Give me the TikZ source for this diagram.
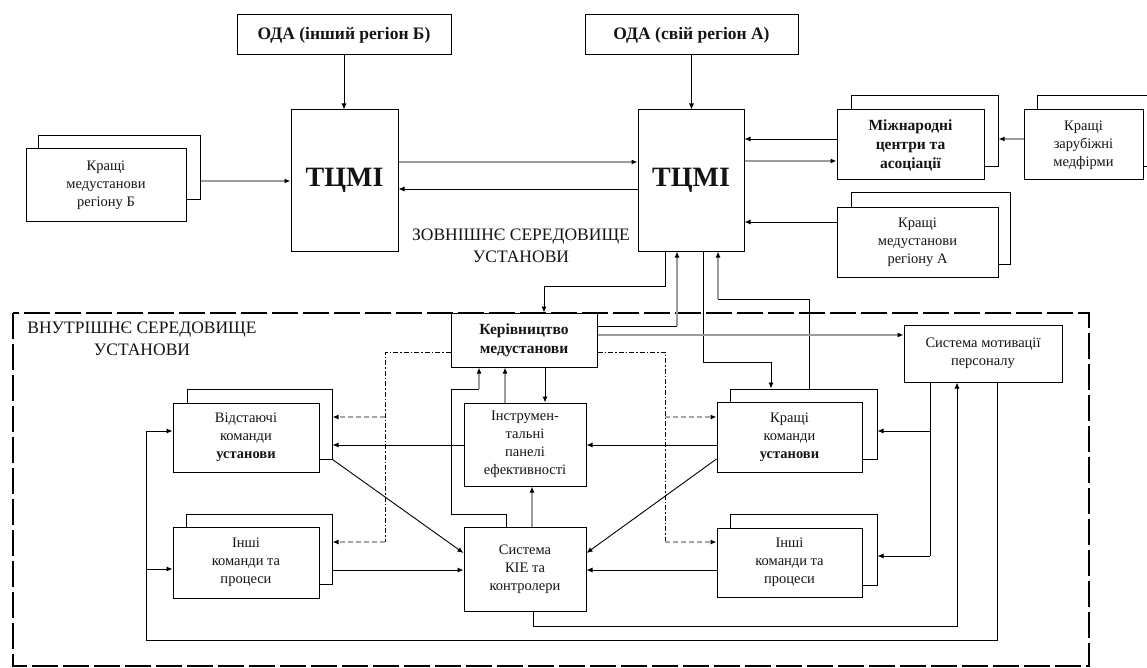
\documentclass[tikz,border=0pt]{standalone}
\usepackage{fontspec}
\setmainfont{Liberation Serif}
\usetikzlibrary{arrows.meta,calc}
\definecolor{diagramText}{HTML}{141414}
\definecolor{linkGray}{HTML}{9C9C9C}
\definecolor{dashGray}{HTML}{A8A8A8}
\newcommand{\boxfont}{\fontsize{14.5}{18}\selectfont}

\begin{document}
\begin{tikzpicture}[
  x=1pt, y=-1pt,
  >={Latex[length=6pt,width=5pt,color=black]},
  unit/.style={
    draw,
    fill=white,
    text=diagramText,
    line width=1pt,
    inner sep=0pt,
    align=center,
    font=\boxfont
  },
  dims/.style 2 args={minimum width=#1, minimum height=#2},
  odabox/.style={unit, font=\bfseries\fontsize{17.5}{20}\selectfont},
  hubbox/.style={unit, font=\bfseries\fontsize{28}{30}\selectfont},
  boldunit/.style={unit, font=\bfseries\fontsize{15.5}{19}\selectfont},
  areatext/.style={align=center, text=diagramText, font=\fontsize{17.5}{22}\selectfont},
  linkline/.style={draw=black, line width=0.9pt},
  flow/.style={linkline, ->},
  softflow/.style={->, draw=linkGray, line width=2pt},
  dashlink/.style={->, draw=dashGray, line width=1.6pt, dash pattern=on 5pt off 3pt},
  orderline/.style={draw=black, line width=0.9pt, dash pattern=on 5pt off 2pt on 1.5pt off 2pt},
  areaframe/.style={draw=black, line width=1.1pt, dash pattern=on 26pt off 5pt}
]
\useasboundingbox (0,0) rectangle (1147,668);

% inner area
\draw[areaframe] (13,313) rectangle (1089,666);
\node[areatext] (inner-label) at (142,339) {ВНУТРІШНЄ СЕРЕДОВИЩЕ\\УСТАНОВИ};
\node[areatext] (outer-label) at (521,246) {ЗОВНІШНЄ СЕРЕДОВИЩЕ\\УСТАНОВИ};

% external environment
\node[odabox, dims={214}{40}] (oda-b) at (344,35) {ОДА (інший регіон Б)};
\node[odabox, dims={213}{40}] (oda-a) at (691.5,35) {ОДА (свій регіон А)};
\node[hubbox, dims={107}{141}] (tcmi-b) at (344.5,180.5) {ТЦМІ};
\node[hubbox, dims={106}{141}] (tcmi-a) at (691,180.5) {ТЦМІ};

\node[unit, dims={162}{64}] (best-b-back) at (119,168) {};
\node[unit, dims={160}{73}] (best-b) at (106,185.5) {Кращі\\медустанови\\регіону Б};
\node[unit, dims={147}{71}] (intl-back) at (924.5,131.5) {};
\node[boldunit, dims={147}{70}] (intl) at (910.5,145) {Міжнародні\\центри та\\асоціації};
\node[unit, dims={115}{71}] (foreign-back) at (1094.5,131.5) {};
\node[unit, dims={119}{70}] (foreign) at (1083.5,145) {Кращі\\зарубіжні\\медфірми};
\node[unit, dims={159}{71}] (best-a-back) at (930.5,228.5) {};
\node[unit, dims={161}{69}] (best-a) at (917.5,242.5) {Кращі\\медустанови\\регіону А};

% internal environment
\node[boldunit, dims={146}{54}] (mgmt) at (524,340) {Керівництво\\медустанови};
\node[unit, dims={158}{57}] (motiv) at (983,353.5) {Система мотивації\\персоналу};
\node[unit, dims={145}{70}] (lag-back) at (259.5,424) {};
\node[unit, dims={146}{69}] (lag) at (246,437.5) {Відстаючі\\команди\\\textbf{установи}};
\node[unit, dims={146}{70}] (other-l-back) at (259,549) {};
\node[unit, dims={146}{71}] (other-l) at (246,562.5) {Інші\\команди та\\процеси};
\node[unit, dims={122}{83}] (panel) at (525,444.5) {Інструмен-\\тальні\\панелі\\ефективності};
\node[unit, dims={122}{84}] (kpi) at (525,569) {Система\\КІЕ та\\контролери};
\node[unit, dims={147}{70}] (teams-back) at (803.5,424) {};
\node[unit, dims={145}{70}] (teams) at (789.5,437) {Кращі\\команди\\\textbf{установи}};
\node[unit, dims={147}{71}] (other-r-back) at (803.5,549.5) {};
\node[unit, dims={145}{69}] (other-r) at (789.5,562.5) {Інші\\команди та\\процеси};

% exterior links
\draw[flow] (oda-b.south) -- (oda-b.south |- tcmi-b.north);
\draw[flow] (oda-a.south) -- (oda-a.south |- tcmi-a.north);
\draw[softflow] (best-b-back.east |- 0,181) -- (tcmi-b.west |- 0,181);
\draw[softflow] (tcmi-b.east |- 0,162) -- (tcmi-a.west |- 0,162);
\draw[flow] (tcmi-a.west |- 0,189) -- (tcmi-b.east |- 0,189);
\draw[flow] (intl.west |- 0,139) -- (tcmi-a.east |- 0,139);
\draw[softflow] (tcmi-a.east |- 0,161) -- (intl.west |- 0,161);
\draw[softflow] (foreign.west |- 0,139) -- (intl-back.east |- 0,139);
\draw[flow] (best-a.west |- 0,222) -- (tcmi-a.east |- 0,222);

% exterior <-> management
\draw[flow] (tcmi-a.south -| 665,0) |- (544,286) -- (mgmt.north -| 544,0);
\draw[linkline] (mgmt.east |- 0,326) -- (677,326);
\draw[softflow] (677,326) -- (tcmi-a.south -| 677,0);
\draw[flow] (tcmi-a.south -| 703,0) |- (771,362) -- (teams-back.north -| 771,0);
\draw[linkline] (teams-back.north -| 809,0) |- (718,299);
\draw[softflow] (718,299) -- (tcmi-a.south -| 718,0);

% management
\draw[softflow] (mgmt.east |- 0,335) -- (motiv.west |- 0,335);
\draw[orderline] (mgmt.west |- 0,352) -| (385,542);
\draw[orderline] (mgmt.east |- 0,352) -| (665,542);
\draw[dashlink] (385,417) -- (lag-back.east |- 0,417);
\draw[dashlink] (385,542) -- (other-l-back.east |- 0,542);
\draw[dashlink] (665,417) -- (teams.west |- 0,417);
\draw[dashlink] (665,542) -- (other-r.west |- 0,542);
\draw[flow] (mgmt.south -| 545,0) -- (panel.north -| 545,0);
\draw[softflow] (panel.north -| 505,0) -- (mgmt.south -| 505,0);
\draw[linkline] (kpi.north -| 506,0) -- (506,514) -| (451,389) -- (479,389);
\draw[softflow] (479,389) -- (mgmt.south -| 479,0);

% teams and KPI
\draw[softflow] (kpi.north -| 532,0) -- (panel.south -| 532,0);
\draw[flow] (panel.west |- 0,445) -- (lag-back.east |- 0,445);
\draw[flow] (teams.west |- 0,445) -- (panel.east |- 0,445);
\draw[flow] (lag-back.south east) -- (kpi.west |- 0,553);
\draw[flow] (teams.west |- 0,459) -- (kpi.east |- 0,553);
\draw[flow] (other-l-back.east |- 0,570) -- (kpi.west |- 0,570);
\draw[flow] (other-r.west |- 0,570) -- (kpi.east |- 0,570);

% motivation loops
\draw[linkline] (motiv.south -| 930,0) -- (930,556);
\draw[flow] (930,431) -- (teams-back.east |- 0,431);
\draw[flow] (930,556) -- (other-r-back.east |- 0,556);
\draw[flow] (kpi.south -| 533,0) |- (957,626) -- (motiv.south -| 957,0);
\draw[flow] (motiv.south -| 997,0) |- (146,640) |- (lag.west |- 0,431);
\draw[flow] (146,569) -- (other-l.west |- 0,569);

\end{tikzpicture}
\end{document}
